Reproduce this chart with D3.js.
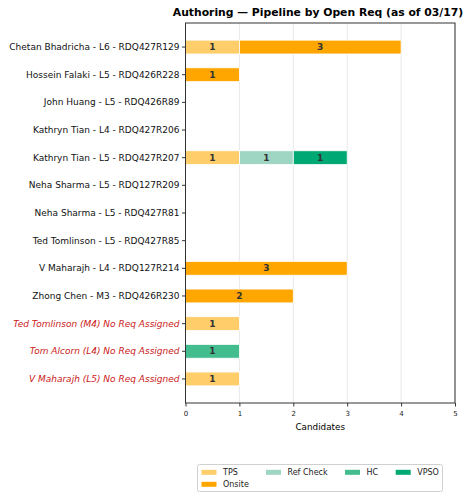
<!DOCTYPE html>
<html>
<head>
<meta charset="utf-8">
<script src="https://cdn.jsdelivr.net/npm/d3@7"></script>
<style>
  body { margin: 0; background: #fff; }
  text { font-family: "DejaVu Sans", sans-serif; }
</style>
</head>
<body>
<div id="chart-area"></div>
<script>
// data
var categories = [
  "Chetan Bhadricha - L6 - RDQ427R129",
  "Hossein Falaki - L5 - RDQ426R228",
  "John Huang - L5 - RDQ426R89",
  "Kathryn Tian - L4 - RDQ427R206",
  "Kathryn Tian - L5 - RDQ427R207",
  "Neha Sharma - L5 - RDQ127R209",
  "Neha Sharma - L5 - RDQ427R81",
  "Ted Tomlinson - L5 - RDQ427R85",
  "V Maharajh - L4 - RDQ127R214",
  "Zhong Chen - M3 - RDQ426R230",
  "Ted Tomlinson (M4) No Req Assigned",
  "Tom Alcorn (L4) No Req Assigned",
  "V Maharajh (L5) No Req Assigned"
]
var stages = ["TPS", "Onsite", "Ref Check", "HC", "VPSO"]
var tps      = [1, 0, 0, 0, 1, 0, 0, 0, 0, 0, 1, 0, 1]
var onsite   = [3, 1, 0, 0, 0, 0, 0, 0, 3, 2, 0, 0, 0]
var refCheck = [0, 0, 0, 0, 1, 0, 0, 0, 0, 0, 0, 0, 0]
var hc       = [0, 0, 0, 0, 0, 0, 0, 0, 0, 0, 0, 1, 0]
var vpso     = [0, 0, 0, 0, 1, 0, 0, 0, 0, 0, 0, 0, 0]
var xTicks = [0, 1, 2, 3, 4, 5]

var colors = {
  "TPS": "#ffcd69",
  "Onsite": "#ffa600",
  "Ref Check": "#9fd6c3",
  "HC": "#43bc8e",
  "VPSO": "#00a873"
}

var rows = categories.map(function(c, i) {
  return { name: c, "TPS": tps[i], "Onsite": onsite[i], "Ref Check": refCheck[i], "HC": hc[i], "VPSO": vpso[i] }
})

var W = 476, H = 500
var plot = { left: 185.5, right: 455, top: 23, bottom: 403 }

var svg = d3.select("#chart-area")
  .append("svg")
  .attr("width", W)
  .attr("height", H)

var x = d3.scaleLinear()
  .domain([0, 5])
  .range([plot.left, plot.right])

var y = d3.scaleBand()
  .domain(categories)
  .range([plot.top, plot.bottom])
  .paddingInner(0.5)
  .paddingOuter(0.62)

// grid
svg.append("g")
  .selectAll("line")
  .data(xTicks)
  .enter()
  .append("line")
  .attr("x1", d => x(d))
  .attr("x2", d => x(d))
  .attr("y1", plot.top)
  .attr("y2", plot.bottom)
  .attr("stroke", "#e8e8e8")
  .attr("stroke-width", 1)

// stacked bars
var series = d3.stack().keys(stages)(rows)

var layers = svg.append("g")
  .selectAll("g")
  .data(series)
  .enter()
  .append("g")
  .attr("fill", d => colors[d.key])

layers.selectAll("rect")
  .data(d => d.filter(s => s[1] - s[0] > 0))
  .enter()
  .append("rect")
  .attr("x", d => x(d[0]))
  .attr("y", d => y(d.data.name))
  .attr("width", d => x(d[1]) - x(d[0]))
  .attr("height", y.bandwidth())
  .attr("stroke", "#fff")
  .attr("stroke-width", 0.8)

layers.selectAll("text")
  .data(d => d.filter(s => s[1] - s[0] > 0))
  .enter()
  .append("text")
  .attr("x", d => (x(d[0]) + x(d[1])) / 2)
  .attr("y", d => y(d.data.name) + y.bandwidth() / 2)
  .attr("dy", "0.35em")
  .attr("text-anchor", "middle")
  .attr("font-size", "9px")
  .attr("font-weight", "bold")
  .attr("fill", "#333")
  .text(d => d[1] - d[0])

// axes
var xAxisCall = d3.axisBottom(x)
  .tickValues(xTicks)
  .tickSize(3.5)
  .tickFormat(d3.format("d"))

var xAxis = svg.append("g")
  .attr("transform", "translate(0," + plot.bottom + ")")
  .call(xAxisCall)
xAxis.select(".domain").remove()
xAxis.selectAll("text").attr("font-size", "7px").attr("dy", "0.9em").attr("fill", "#222")
xAxis.selectAll("line").attr("stroke", "#333")

var yAxisCall = d3.axisLeft(y).tickSize(3.5).tickPadding(2.5)

var yAxis = svg.append("g")
  .attr("transform", "translate(" + plot.left + ",0)")
  .call(yAxisCall)
yAxis.select(".domain").remove()
yAxis.selectAll("line").attr("stroke", "#333")
yAxis.selectAll("text")
  .attr("font-size", "9px")
  .attr("fill", d => d.indexOf("No Req Assigned") >= 0 ? "#cc2020" : "#111")
  .attr("font-style", d => d.indexOf("No Req Assigned") >= 0 ? "italic" : "normal")

// frame
svg.append("rect")
  .attr("x", plot.left)
  .attr("y", plot.top)
  .attr("width", plot.right - plot.left)
  .attr("height", plot.bottom - plot.top)
  .attr("fill", "none")
  .attr("stroke", "#333")
  .attr("stroke-width", 1)

// title
svg.append("text")
  .text("Authoring \u2014 Pipeline by Open Req (as of 03/17)")
  .attr("x", 318)
  .attr("y", 16)
  .attr("text-anchor", "middle")
  .attr("font-size", "10.8px")
  .attr("font-weight", "bold")

// x label
svg.append("text")
  .text("Candidates")
  .attr("x", (plot.left + plot.right) / 2)
  .attr("y", 430)
  .attr("text-anchor", "middle")
  .attr("font-size", "8.8px")

// legend
var legend = svg.append("g")
legend.append("rect")
  .attr("x", 197.5)
  .attr("y", 464.5)
  .attr("width", 245)
  .attr("height", 27)
  .attr("rx", 2)
  .attr("fill", "#fff")
  .attr("stroke", "#d0d0d0")

// ncol=4 with 5 entries: first column holds two
var colX = [201.5, 266, 345, 395.7]
var rowY = [472.3, 484.3]
stages.forEach(function(s, i) {
  var c = i < 2 ? 0 : i - 1
  var r = i < 2 ? i : 0
  var gx = colX[c], gy = rowY[r]
  legend.append("rect")
    .attr("x", gx)
    .attr("y", gy - 2.5)
    .attr("width", 15)
    .attr("height", 5)
    .attr("fill", colors[s])
  legend.append("text")
    .text(s)
    .attr("x", gx + 21.5)
    .attr("y", gy)
    .attr("dy", "0.35em")
    .attr("font-size", "8px")
    .attr("fill", "#222")
})
</script>
</body>
</html>
